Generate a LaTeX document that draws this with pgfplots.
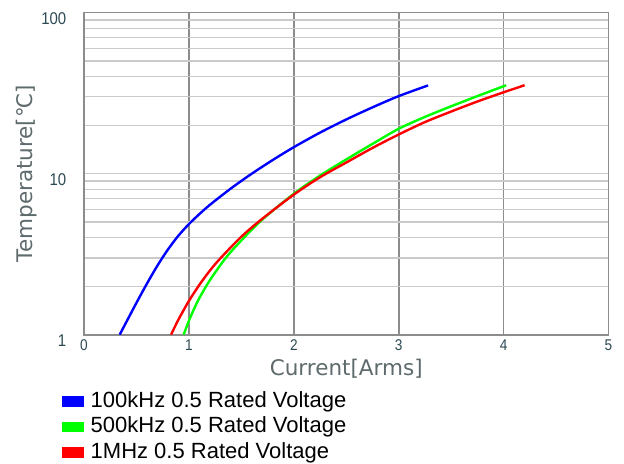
\documentclass[border=0pt]{standalone}
\usepackage{pgfplots}
\pgfplotsset{compat=1.18}
\usepackage{fontspec}
\setmainfont{Liberation Sans}
\newfontfamily\tickfont[FakeStretch=0.88]{Liberation Sans}
\newfontfamily\titlefont{DejaVu Sans}
\definecolor{tickc}{HTML}{2C4A54}
\definecolor{titlec}{HTML}{5E6A6C}
\definecolor{vgrid}{HTML}{8C8C8C}
\definecolor{hgrid}{HTML}{CACACA}
\definecolor{framec}{HTML}{8C8C8C}
\begin{document}
\begin{tikzpicture}
\useasboundingbox (0,0) rectangle (624bp,464bp);
\begin{axis}[
  at={(84bp,129.3bp)}, anchor=south west,
  scale only axis, width=524.5bp, height=322.1bp,
  xmin=0, xmax=5, ymin=1, ymax=100, ymode=log,
  xtick={0,1,2,3,4,5},
  xticklabels={\hbox{0},\hbox{1},\hbox{2},\hbox{3},\hbox{4},\hbox{5}},
  ytick={1,10,100}, yticklabels={\hbox{1},\hbox{10},\hbox{100}},
  minor ytick={2,3,4,5,6,7,8,9,20,30,40,50,60,70,80,90},
  major tick length=0pt, minor tick length=0pt,
  xmajorgrids, ymajorgrids, yminorgrids,
  x grid style={draw=vgrid, line width=1.6bp},
  y grid style={draw=hgrid, line width=1.3bp},
  minor y grid style={draw=hgrid, line width=1.3bp},
  axis line style={draw=framec, line width=1.6bp},
  /pgf/number format/assume math mode=true,
  xticklabel style={font=\tickfont\fontsize{15.5bp}{15.5bp}\selectfont, text=tickc,
    anchor=north, inner sep=0pt, yshift=-5bp},
  yticklabel style={font=\tickfont\fontsize{17bp}{17bp}\selectfont, text=tickc,
    anchor=north east, inner sep=0pt, xshift=-17.5bp},
  xlabel={Current[Arms]}, ylabel={Temperature[℃]},
  label style={font=\titlefont\fontsize{21.5bp}{21.5bp}\selectfont, text=titlec},
  xlabel style={at={(axis description cs:0.5,0)}, anchor=base, yshift=-40.3bp},
  ylabel style={at={(axis description cs:-0.0978,0.5)}, anchor=base},
  legend style={draw=none, fill=none, at={(axis description cs:0,0)}, anchor=north west,
    xshift=-22.3bp, yshift=-57.1bp, inner sep=0pt, outer sep=0pt, row sep=5.5bp,
    font=\fontsize{22bp}{22bp}\selectfont,
    nodes={text height=15.5bp, text depth=4.5bp, inner ysep=0pt, inner xsep=7bp},
    cells={anchor=west}},
  legend image code/.code={\fill[#1, draw=none] (0bp,-5bp) rectangle (22bp,5.5bp);},
  every axis plot/.append style={line width=2.4bp, smooth, no markers},
]
\addplot[color=blue] coordinates {
(0.34,1.0) (0.42,1.256) (0.50,1.578) (0.60,2.075) (0.70,2.685) (0.80,3.38)
(0.90,4.12) (1.00,4.86) (1.10,5.61) (1.20,6.40) (1.40,8.09) (1.60,10.0)
(1.80,12.16) (2.00,14.6) (2.25,17.98) (2.50,21.7) (2.75,25.8) (3.00,30.3) (3.28,35.3)
};
\addlegendentry{100kHz 0.5 Rated Voltage}
\addplot[color=green] coordinates {
(0.95,1.0) (1.00,1.22) (1.05,1.45) (1.10,1.69) (1.20,2.18) (1.35,2.99) (1.50,3.85)
(1.70,5.19) (2.00,7.5) (2.25,9.73) (2.50,12.25) (2.75,15.3) (3.00,19.0) (3.25,22.5)
(3.50,26.2) (3.75,30.3) (4.00,34.9) (4.02,35.3)
};
\addlegendentry{500kHz 0.5 Rated Voltage}
\addplot[color=red] coordinates {
(0.83,1.0) (0.90,1.24) (1.00,1.62) (1.10,2.04) (1.20,2.50) (1.30,2.98) (1.50,4.06)
(1.70,5.25) (2.00,7.41) (2.25,9.5) (2.50,11.72) (2.75,14.44) (3.00,17.5) (3.25,20.9)
(3.50,24.3) (3.75,28.05) (4.00,32.0) (4.20,35.4)
};
\addlegendentry{1MHz 0.5 Rated Voltage}
\end{axis}
\end{tikzpicture}
\end{document}
